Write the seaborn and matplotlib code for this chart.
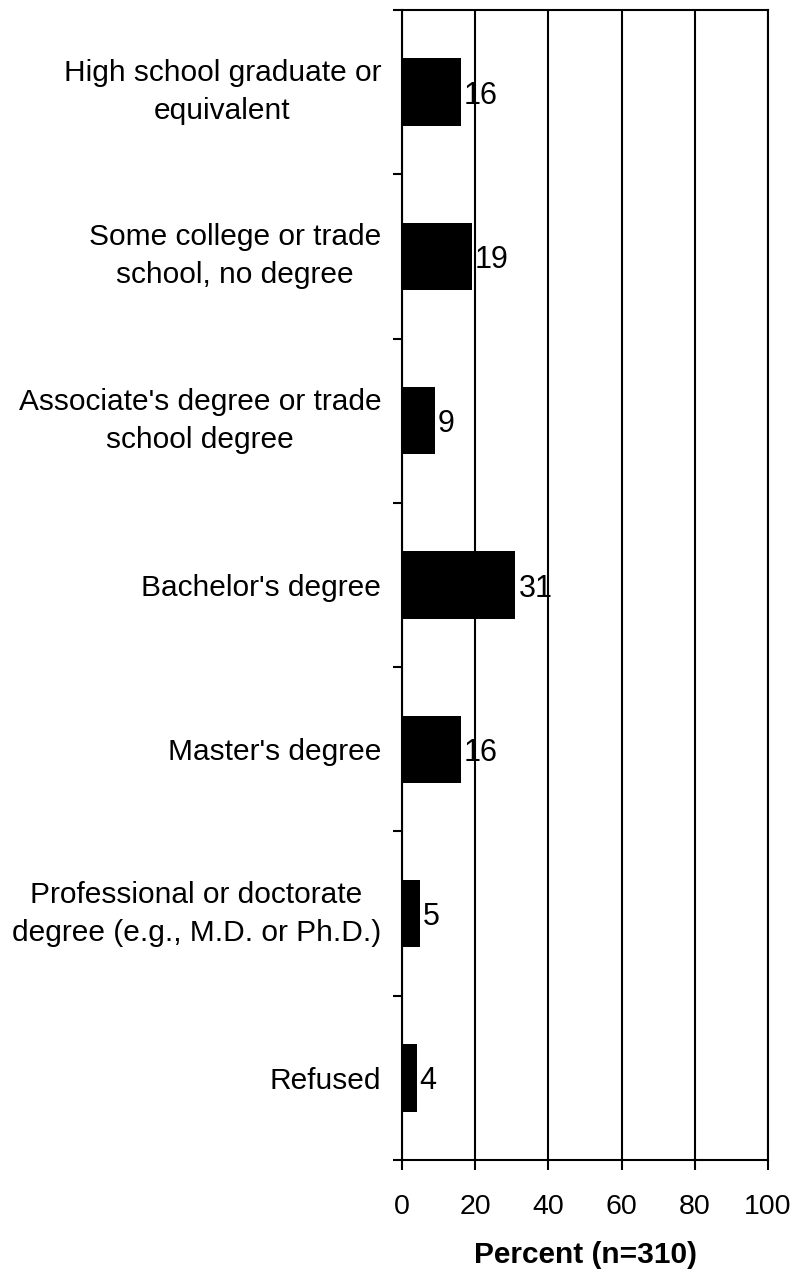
import matplotlib
matplotlib.use("Agg")
import matplotlib.pyplot as plt
from matplotlib.ticker import FixedLocator
import seaborn as sns
import pandas as pd

# Education level of respondents
categories = [
    "High school graduate or\nequivalent",
    "Some college or trade\nschool, no degree",
    "Associate's degree or trade\nschool degree",
    "Bachelor's degree",
    "Master's degree",
    "Professional or doctorate\ndegree (e.g., M.D. or Ph.D.)",
    "Refused",
]
percents = [16, 19, 9, 31, 16, 5, 4]
x_ticks = [0, 20, 40, 60, 80, 100]
x_label = "Percent (n=310)"

sns.set_theme(style="white")
plt.rcParams["font.family"] = ["Liberation Sans", "DejaVu Sans"]
plt.rcParams.update({"text.color": "black", "axes.labelcolor": "black",
                     "xtick.color": "black", "ytick.color": "black"})

W, H = 798, 1274
fig = plt.figure(figsize=(W / 100, H / 100), dpi=100)
ax = fig.add_axes([402 / W, 1 - 1160 / H, 366 / W, 1150 / H])

df = pd.DataFrame({"category": categories, "percent": percents})
sns.barplot(data=df, x="percent", y="category", orient="h", color="black",
            width=0.41, saturation=1, edgecolor="black", linewidth=0, ax=ax)

ax.set_xlim(0, 100)
ax.set_ylim(len(categories) - 0.5, -0.5)

# x axis: ticks, gridlines and label
ax.set_xticks(x_ticks)
ax.set_xticklabels([str(t) for t in x_ticks], fontsize=20.5)
ax.tick_params(axis="x", direction="out", length=7.5, width=1.5, color="black",
               labelcolor="black", pad=17, bottom=True)
ax.grid(axis="x", color="black", linewidth=1.5)
ax.grid(axis="y", visible=False)
ax.set_axisbelow(False)
ax.set_xlabel(x_label, fontsize=21.5, fontweight="bold", labelpad=15, color="black")
ax.set_ylabel("")

# y axis: category labels centred, ticks at band boundaries
ax.set_yticks(range(len(categories)))
ax.set_yticklabels(categories, fontsize=21.5)
for lab in ax.get_yticklabels():
    lab.set_multialignment("center")
    lab.set_linespacing(1.45)
    lab.set_color("black")
    if "\n" in lab.get_text():
        lab.set_verticalalignment("center")
ax.tick_params(axis="y", which="major", length=0, pad=15)
ax.yaxis.set_minor_locator(FixedLocator([i - 0.5 for i in range(len(categories) + 1)]))
ax.tick_params(axis="y", which="minor", direction="out", length=6.5, width=1.5,
               color="black", left=True)

for side in ["left", "bottom", "top", "right"]:
    ax.spines[side].set_visible(True)
    ax.spines[side].set_color("black")
    ax.spines[side].set_linewidth(1.5)

# value labels next to each bar
for i, v in enumerate(percents):
    ax.text(v + 0.8, i, str(v), ha="left", va="center_baseline", fontsize=22,
            color="black", zorder=2)

fig.savefig("out.png", dpi=100, facecolor="white")
